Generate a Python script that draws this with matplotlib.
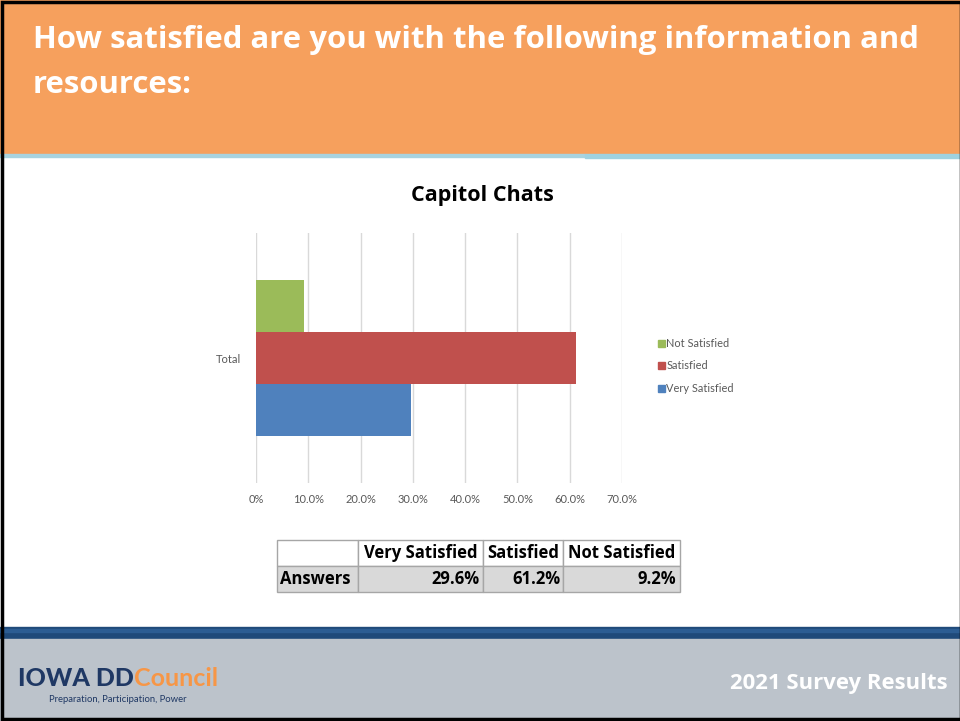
import matplotlib.pyplot as plt
from matplotlib.patches import Rectangle, Patch

plt.rcParams['font.family'] = ['Lato', 'DejaVu Sans']
BOLD_FONT = ['Open Sans', 'DejaVu Sans']

# survey answers for "Capitol Chats"
series = ['Very Satisfied', 'Satisfied', 'Not Satisfied']
shares = [29.6, 61.2, 9.2]
colors = ['#4f81bd', '#c0504d', '#9bbb59']
category = 'Total'
xticks = [0, 10, 20, 30, 40, 50, 60, 70]
xtick_labels = ['0%', '10.0%', '20.0%', '30.0%', '40.0%', '50.0%', '60.0%', '70.0%']

W, H = 960, 721
fig = plt.figure(figsize=(W / 100, H / 100), dpi=100)


def fx(px):
    return px / W


def fy(py):
    return 1 - py / H


# slide background pieces
bg = fig.add_axes([0, 0, 1, 1])
bg.set_xlim(0, W)
bg.set_ylim(H, 0)
bg.axis('off')
bg.add_patch(Rectangle((0, 0), W, H, color='white'))
bg.add_patch(Rectangle((0, 0), W, 154, color='#f6a05d'))
bg.add_patch(Rectangle((0, 154), 585, 3, color='#a8d3df'))
bg.add_patch(Rectangle((585, 154), W - 585, 4, color='#9fd2e0'))
bg.add_patch(Rectangle((0, 627), W, 12, color='#1f4a7a'))
bg.add_patch(Rectangle((0, 629), W, 3, color='#2c5d93'))
bg.add_patch(Rectangle((0, 639), W, H - 639, color='#bcc3cb'))
bg.add_patch(Rectangle((2, 2), W - 1, H - 4, fill=False, ec='black', lw=2.5))

fig.text(fx(33), fy(40), 'How satisfied are you with the following information and',
         color='white', fontsize=22.4, fontweight='bold', va='center', ha='left',
         family=BOLD_FONT)
fig.text(fx(33), fy(85), 'resources:', color='white', fontsize=22.4,
         fontweight='bold', va='center', ha='left', family=BOLD_FONT)

# footer
fig.text(fx(948), fy(684), '2021 Survey Results', color='white', fontsize=15.9,
         fontweight='bold', ha='right', va='center', family=BOLD_FONT)
logo = fig.text(fx(18), fy(678), 'IOWA DD', color='#1f3864', fontsize=18,
                fontweight='black', ha='left', va='center')
fig.canvas.draw()
bb = logo.get_window_extent()
fig.text(bb.x1 / W, fy(678), 'Council', color='#f79646', fontsize=18,
         fontweight='bold', ha='left', va='center')
fig.text(fx(49), fy(699), 'Preparation, Participation, Power', color='#1f3864',
         fontsize=6.8, ha='left', va='center')

# chart
fig.text(fx(482), fy(196), 'Capitol Chats', fontsize=15.5, fontweight='bold',
         ha='center', va='center', color='black', family=BOLD_FONT)

ax = fig.add_axes([fx(256), fy(483), fx(622) - fx(256), (483 - 233) / H])
h = 0.207
for i, (name, val, col) in enumerate(zip(series, shares, colors)):
    ax.barh((i - 1) * h, val, height=h, color=col, label=name, zorder=3)
ax.set_xlim(0, 70)
ax.set_ylim(-0.5, 0.5)
ax.set_xticks(xticks)
ax.set_xticklabels(xtick_labels)
ax.set_yticks([0])
ax.set_yticklabels([category])
ax.tick_params(length=0, labelsize=8, labelcolor='#595959')
ax.tick_params(axis='x', pad=8)
ax.tick_params(axis='y', pad=11)
ax.grid(axis='x', color='#d9d9d9', lw=1, zorder=0)
for s in ax.spines.values():
    s.set_visible(False)

handles = [Patch(color=c, label=n) for n, c in zip(series, colors)][::-1]
fig.legend(handles=handles, loc='center left', bbox_to_anchor=(fx(658), fy(366)),
           frameon=False, fontsize=7.9, labelcolor='#595959', handlelength=0.62,
           handleheight=0.62, handletextpad=0.15, labelspacing=1.05,
           borderpad=0, borderaxespad=0)

# data table
tax = fig.add_axes([fx(277), fy(592), fx(680) - fx(277), (592 - 540) / H])
tax.axis('off')
cells = [[''] + series, ['Answers'] + ['%.1f%%' % v for v in shares]]
col_w = [81, 125, 80, 117]
tbl = tax.table(cellText=cells, colWidths=[w / sum(col_w) for w in col_w],
                bbox=[0, 0, 1, 1])
tbl.auto_set_font_size(False)
for (r, c), cell in tbl.get_celld().items():
    cell.set_edgecolor('#a6a6a6')
    cell.set_linewidth(1)
    cell.set_facecolor('#d9d9d9' if r == 1 else 'white')
    txt = cell.get_text()
    txt.set_fontsize(12)
    txt.set_fontweight('bold')
    txt.set_family(BOLD_FONT)
    if r == 1 and c > 0:
        txt.set_ha('right')
        cell.PAD = 0.03
    elif c == 0:
        txt.set_ha('left')
        cell.PAD = 0.04
    else:
        txt.set_ha('center')

fig.savefig('out.png', dpi=100)
